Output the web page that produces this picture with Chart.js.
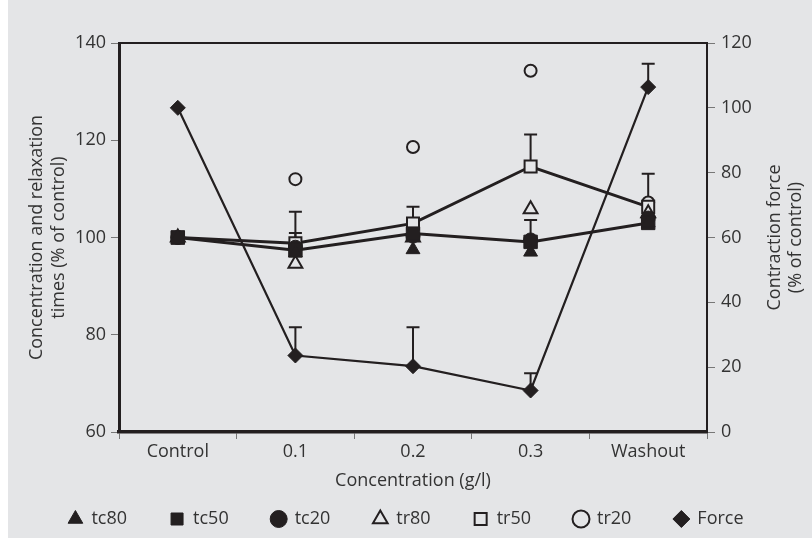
<!DOCTYPE html>
<html>
<head>
<meta charset="utf-8">
<script src="https://cdn.jsdelivr.net/npm/chart.js@4.4.1/dist/chart.umd.min.js"></script>
<style>
body { margin: 0; background: #fff; }
#wrap { position: absolute; left: 0; top: 0; width: 812px; height: 538px; }
</style>
</head>
<body>
<div id="wrap"><canvas id="line-chart" width="812" height="538"></canvas></div>
<script>
// data
var labels = ['Control', '0.1', '0.2', '0.3', 'Washout'];
var tc80 = [100, 96.8, 97.5, 97, 103];
var tc50 = [100, 97.4, 100.8, 99.1, 103];
var tc20 = [100, 98, 100.3, 99.5, 104];
var tr80 = [100, 94.6, 100, 105.8, 105];
var tr50 = [100, 98.8, 102.9, 114.6, 106.3];
var tr20 = [100, 112, 118.6, 134.3, 107.2];
var force = [100, 23.6, 20.3, 12.8, 106.4];
// upper error bar ends
var tr50Err = [null, 105.3, 106.3, 121.2, 113.1];
var tc50Err = [null, 100.9, null, 103.6, null];
var forceErr = [null, 32.3, 32.3, 18.1, 113.6];
var leftRange = [60, 140];
var rightRange = [0, 120];
var tickStep = 20;

var ink = '#231f20';
var paper = '#e4e5e7';
var textCol = '#333333';
var fam = '"Open Sans", "Liberation Sans", sans-serif';

var figurePlugin = {
    id: 'figure',
    beforeDraw: function(chart) {
        var ctx = chart.ctx;
        ctx.save();
        ctx.fillStyle = paper;
        ctx.fillRect(8, 0, chart.width - 8, chart.height);
        ctx.restore();
    },
    beforeDatasetsDraw: function(chart) {
        var ctx = chart.ctx;
        var bars = [[4, tr50Err, 'y'], [1, tc50Err, 'y'], [6, forceErr, 'y1']];
        ctx.save();
        ctx.strokeStyle = ink;
        ctx.lineWidth = 2;
        bars.forEach(function(b) {
            var meta = chart.getDatasetMeta(b[0]);
            for (let i = 0; i < b[1].length; i++) {
                if (b[1][i] == null) continue;
                var pt = meta.data[i];
                var top = chart.scales[b[2]].getPixelForValue(b[1][i]);
                ctx.beginPath();
                ctx.moveTo(pt.x, pt.y);
                ctx.lineTo(pt.x, top);
                ctx.moveTo(pt.x - 6.5, top);
                ctx.lineTo(pt.x + 6.5, top);
                ctx.stroke();
            }
        });
        ctx.restore();
    },
    afterDraw: function(chart) {
        var ctx = chart.ctx;
        var a = chart.chartArea;
        ctx.save();
        ctx.strokeStyle = ink;
        ctx.lineWidth = 2;
        ctx.beginPath();
        ctx.moveTo(a.left, a.top);
        ctx.lineTo(a.right, a.top);
        ctx.stroke();

        ctx.fillStyle = textCol;
        ctx.font = '18px ' + fam;
        ctx.textAlign = 'center';
        ctx.textBaseline = 'middle';
        var mid = (a.top + a.bottom) / 2;
        ctx.fillText('Concentration (g/l)', (a.left + a.right) / 2, 481);
        var titles = [
            [37, 'Concentration and relaxation'], [59, 'times (% of control)'],
            [775, 'Contraction force'], [796, '(% of control)']
        ];
        titles.forEach(function(t) {
            ctx.save();
            ctx.translate(t[0], mid);
            ctx.rotate(-Math.PI / 2);
            ctx.fillText(t[1], 0, 0);
            ctx.restore();
        });
        ctx.restore();
    }
};

function series(label, data, style, filled, extra) {
    var ds = {
        label: label,
        data: data,
        yAxisID: 'y',
        showLine: false,
        borderColor: ink,
        backgroundColor: filled ? ink : paper,
        pointStyle: style,
        pointBackgroundColor: filled ? ink : paper,
        pointBorderColor: ink,
        pointBorderWidth: filled ? 1 : 2,
        pointRadius: 7,
        pointHoverRadius: 7,
        tension: 0
    };
    return Object.assign(ds, extra || {});
}

new Chart(document.getElementById('line-chart'), {
    type: 'line',
    data: {
        labels: labels,
        datasets: [
            series('tc80', tc80, 'triangle', true, { pointRadius: 8 }),
            series('tc50', tc50, 'rect', true, { showLine: true, borderWidth: 3, pointRadius: 9.5 }),
            series('tc20', tc20, 'circle', true, { pointRadius: 7 }),
            series('tr80', tr80, 'triangle', false, { pointRadius: 8 }),
            series('tr50', tr50, 'rect', false, { showLine: true, borderWidth: 3, pointRadius: 8.5 }),
            series('tr20', tr20, 'circle', false, { pointRadius: 6 }),
            series('Force', force, 'rectRot', true, { showLine: true, borderWidth: 2.2, pointRadius: 7.5, yAxisID: 'y1' })
        ]
    },
    options: {
        responsive: false,
        animation: false,
        devicePixelRatio: 1,
        layout: { padding: { top: 43, left: 0, right: 0, bottom: 0 } },
        scales: {
            x: {
                offset: true,
                grid: { offset: true, drawOnChartArea: false, tickLength: 7, color: '#777', lineWidth: 1 },
                border: { color: ink, width: 3.5 },
                ticks: { color: textCol, font: { family: fam, size: 18 }, padding: 2, maxRotation: 0 },
                afterFit: function(s) { s.height = 35; }
            },
            y: {
                position: 'left',
                min: leftRange[0],
                max: leftRange[1],
                ticks: { stepSize: tickStep, color: textCol, font: { family: fam, size: 18 }, padding: 5 },
                grid: { drawOnChartArea: false, tickLength: 8, color: '#777' },
                border: { color: ink, width: 3 },
                afterFit: function(s) { s.width = 119; }
            },
            y1: {
                position: 'right',
                min: rightRange[0],
                max: rightRange[1],
                ticks: { stepSize: tickStep, color: textCol, font: { family: fam, size: 18 }, padding: 6 },
                grid: { drawOnChartArea: false, tickLength: 8, color: '#777' },
                border: { color: ink, width: 2 },
                afterFit: function(s) { s.width = 105; }
            }
        },
        plugins: {
            legend: {
                position: 'bottom',
                labels: {
                    usePointStyle: true,
                    boxWidth: 14,
                    boxHeight: 12,
                    padding: 43,
                    color: textCol,
                    font: { family: fam, size: 18 }
                }
            },
            tooltip: { enabled: false }
        }
    },
    plugins: [figurePlugin]
});
</script>
</body>
</html>
